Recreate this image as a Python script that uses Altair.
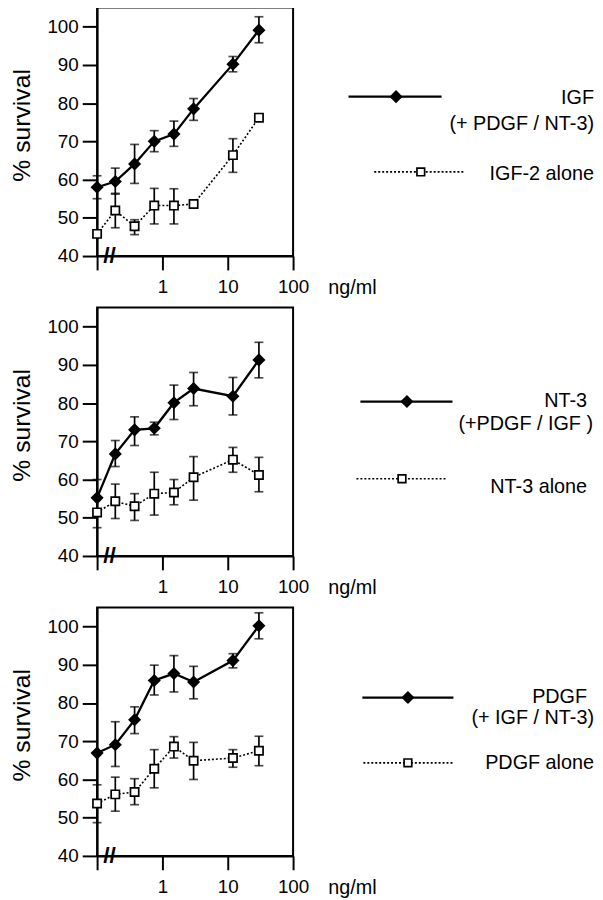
import altair as alt
import pandas as pd

# concentrations (ng/ml); 0 = control, drawn at the start of the broken axis (0.1)
conc = [0, 0.19, 0.375, 0.75, 1.5, 3, 12, 30]

# Panel 1: IGF
igf_combo = [58.0, 59.5, 64.1, 70.0, 71.9, 78.5, 90.2, 99.1]
igf_combo_lo = [55.0, 56.2, 59.0, 67.3, 68.7, 75.5, 88.2, 95.8]
igf_combo_hi = [61.0, 63.0, 69.2, 72.8, 75.3, 81.2, 92.2, 102.6]
igf_alone = [45.8, 51.9, 47.8, 53.2, 53.2, 53.6, 66.4, 76.2]
igf_alone_lo = [45.8, 47.4, 45.6, 48.4, 48.4, 52.9, 61.9, 75.7]
igf_alone_hi = [45.8, 56.4, 49.5, 57.7, 57.6, 54.3, 70.7, 76.7]

# Panel 2: NT-3
nt3_combo = [55.2, 66.7, 73.0, 73.4, 80.1, 83.8, 81.8, 91.3]
nt3_combo_lo = [50.4, 63.4, 68.9, 71.7, 75.7, 79.3, 76.9, 86.6]
nt3_combo_hi = [60.0, 70.2, 76.4, 75.0, 84.7, 88.0, 86.7, 95.9]
nt3_alone = [51.4, 54.3, 53.0, 56.3, 56.6, 60.6, 65.2, 61.2]
nt3_alone_lo = [47.4, 49.8, 49.3, 50.7, 53.4, 54.6, 61.9, 56.8]
nt3_alone_hi = [55.4, 58.8, 56.3, 61.9, 60.0, 66.0, 68.4, 65.8]

# Panel 3: PDGF
pdgf_combo = [66.9, 69.1, 75.6, 85.9, 87.7, 85.5, 91.1, 100.2]
pdgf_combo_lo = [66.9, 63.4, 72.0, 82.1, 82.9, 81.1, 89.2, 96.8]
pdgf_combo_hi = [66.9, 75.1, 79.0, 89.9, 92.4, 89.6, 92.9, 103.6]
pdgf_alone = [53.7, 56.1, 56.7, 62.8, 68.6, 64.9, 65.6, 67.5]
pdgf_alone_lo = [48.7, 51.7, 53.4, 57.8, 65.6, 60.0, 63.2, 63.6]
pdgf_alone_hi = [58.6, 60.6, 60.2, 67.8, 71.2, 69.7, 67.8, 71.3]

# legend texts
igf_labels = ["IGF", "(+ PDGF / NT-3)", "IGF-2 alone"]
nt3_labels = ["NT-3", "(+PDGF /  IGF )", "NT-3 alone"]
pdgf_labels = ["PDGF", "(+ IGF / NT-3)", "PDGF alone"]

x_ticks = [0.1, 1, 10, 100]
y_ticks = [40, 50, 60, 70, 80, 90, 100]
axis_break_at = 0.155

FONT = "Liberation Sans, Arial, sans-serif"
W, H = 198, 251

xscale = alt.Scale(type="log", domain=[0.1, 100], nice=False)
yscale = alt.Scale(domain=[40, 105], nice=False, zero=False)

xaxis = alt.Axis(
    values=x_ticks,
    labelExpr="datum.value < 0.5 ? '' : format(datum.value, 'd')",
    tickSize=14, labelPadding=8, labelFontSize=19, labelFlush=False, labelOverlap=False,
    title="ng/ml", titleX=233, titleY=32, titleAlign="left", titleBaseline="middle",
    titleFontSize=20, titleFontWeight="normal",
    grid=False, domainWidth=2, tickWidth=2, domainColor="black", tickColor="black",
    labelColor="black", titleColor="black", labelFont=FONT, titleFont=FONT,
)
yaxis = alt.Axis(
    values=y_ticks,
    tickSize=15, labelPadding=4, labelFontSize=19,
    title="% survival", titleFontSize=25, titleFontWeight="normal",
    titleX=-76, titleY=118.5, titleBaseline="middle", titleAlign="center",
    grid=False, domainWidth=2, tickWidth=2, domainColor="black", tickColor="black",
    labelColor="black", titleColor="black", labelFont=FONT, titleFont=FONT,
)


def X(field):
    return alt.X(field, type="quantitative", scale=xscale, axis=xaxis)


def Y(field):
    return alt.Y(field, type="quantitative", scale=yscale, axis=yaxis)


def frame(mean, lo, hi):
    xpos = [c if c > 0 else 0.1 for c in conc]
    return pd.DataFrame({"conc": conc, "x": xpos, "mean": mean, "lo": lo, "hi": hi})


one = pd.DataFrame({"k": [0]})


def panel(combo, alone, labels, leg):
    dc = frame(*combo)
    da = frame(*alone)
    layers = []
    for d in (da, dc):
        layers.append(
            alt.Chart(d).mark_errorbar(
                color="black",
                ticks={"size": 9, "thickness": 1.7, "color": "black"},
                rule={"strokeWidth": 1.7, "color": "black"},
            ).encode(x=X("x"), y=Y("lo"), y2=alt.Y2("hi"))
        )
    layers.append(
        alt.Chart(da).mark_line(color="black", strokeWidth=1.6, strokeDash=[2, 2])
        .encode(x=X("x"), y=Y("mean"))
    )
    layers.append(
        alt.Chart(dc).mark_line(color="black", strokeWidth=2.3)
        .encode(x=X("x"), y=Y("mean"))
    )
    layers.append(
        alt.Chart(da).mark_point(shape="square", filled=True, fill="white", stroke="black",
                                 strokeWidth=1.7, size=70, opacity=1)
        .encode(x=X("x"), y=Y("mean"))
    )
    layers.append(
        alt.Chart(dc).mark_point(shape="diamond", filled=True, color="black", size=175, opacity=1)
        .encode(x=X("x"), y=Y("mean"))
    )
    # axis break marks
    brk = pd.DataFrame({"bx": [axis_break_at], "by": [40]})
    layers.append(
        alt.Chart(brk).mark_text(text="//", fontSize=23, font=FONT, fontWeight="bold", color="black",
                                 align="center", baseline="middle")
        .encode(x=X("bx"), y=Y("by"))
    )
    # legend (pixel layout to the right of the panel)
    (l1x1, l1x2, l1y, d1x), (l2x1, l2x2, l2y, s2x), texts = leg
    layers.append(
        alt.Chart(one).mark_rule(color="black", strokeWidth=2.3)
        .encode(x=alt.value(l1x1), x2=alt.value(l1x2), y=alt.value(l1y))
    )
    layers.append(
        alt.Chart(one).mark_point(shape="diamond", filled=True, color="black", size=175, opacity=1)
        .encode(x=alt.value(d1x), y=alt.value(l1y))
    )
    layers.append(
        alt.Chart(one).mark_rule(color="black", strokeWidth=1.6, strokeDash=[2, 2])
        .encode(x=alt.value(l2x1), x2=alt.value(l2x2), y=alt.value(l2y))
    )
    layers.append(
        alt.Chart(one).mark_point(shape="square", filled=True, fill="white", stroke="black",
                                  strokeWidth=1.7, size=60, opacity=1)
        .encode(x=alt.value(s2x), y=alt.value(l2y))
    )
    for lab, (tx, ty) in zip(labels, texts):
        layers.append(
            alt.Chart(one).mark_text(text=lab, fontSize=20, font=FONT, color="black",
                                     align="right", baseline="middle")
            .encode(x=alt.value(tx), y=alt.value(ty))
        )
    return alt.layer(*layers).properties(width=W, height=H)


row1 = panel(
    (igf_combo, igf_combo_lo, igf_combo_hi), (igf_alone, igf_alone_lo, igf_alone_hi), igf_labels,
    ((254, 348, 90, 302), (280, 371, 166, 327), [(502, 91), (502, 118), (502, 168)]),
)
row2 = panel(
    (nt3_combo, nt3_combo_lo, nt3_combo_hi), (nt3_alone, nt3_alone_lo, nt3_alone_hi), nt3_labels,
    ((266, 359, 95, 313), (262, 353, 173, 308), [(495, 94), (501, 118), (495, 181)]),
)
row3 = panel(
    (pdgf_combo, pdgf_combo_lo, pdgf_combo_hi), (pdgf_alone, pdgf_alone_lo, pdgf_alone_hi), pdgf_labels,
    ((268, 360, 91, 314), (269, 360, 157, 314), [(495, 91), (502, 112), (502, 157)]),
)

chart = (
    alt.vconcat(row1, row2, row3, spacing=8)
    .properties(padding={"left": 0, "top": -6, "right": 0, "bottom": 0}, background="white")
    .configure(font=FONT)
    .configure_view(stroke="black", strokeWidth=2)
)

chart.save("out.html", embed_options={"renderer": "svg", "actions": False})
